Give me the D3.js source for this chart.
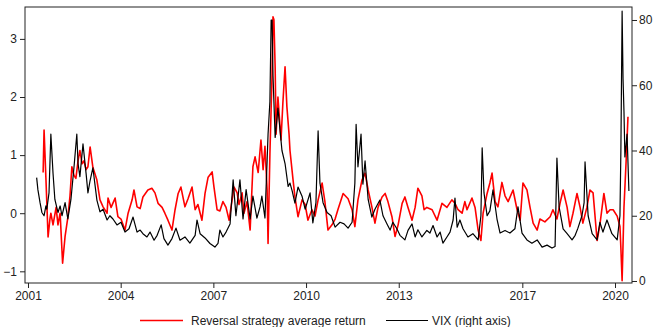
<!DOCTYPE html>
<html><head><meta charset="utf-8">
<script src="https://cdn.jsdelivr.net/npm/d3@7"></script>
<style>
html,body{margin:0;padding:0;background:#fff;}
svg{display:block;font-family:"Liberation Sans",Arial,Helvetica,sans-serif;}
</style></head>
<body><svg id="c" width="653" height="327"></svg>
<script>
// ---- data ----
const vixDates = [2001.28,2001.32,2001.39,2001.45,2001.52,2001.58,2001.61,2001.68,2001.74,2001.81,2001.87,2001.97,2002.04,2002.10,2002.20,2002.29,2002.39,2002.49,2002.58,2002.62,2002.68,2002.78,2002.88,2002.94,2003.01,2003.10,2003.23,2003.33,2003.43,2003.56,2003.65,2003.75,2003.88,2004.01,2004.14,2004.27,2004.40,2004.53,2004.63,2004.72,2004.85,2004.95,2005.08,2005.18,2005.31,2005.40,2005.53,2005.66,2005.79,2005.92,2006.08,2006.24,2006.41,2006.47,2006.57,2006.73,2006.89,2007.05,2007.15,2007.21,2007.31,2007.41,2007.54,2007.64,2007.73,2007.86,2007.96,2008.06,2008.19,2008.28,2008.41,2008.51,2008.57,2008.67,2008.74,2008.77,2008.83,2008.87,2008.90,2008.93,2009.00,2009.09,2009.22,2009.32,2009.42,2009.48,2009.55,2009.64,2009.74,2009.87,2009.97,2010.13,2010.22,2010.32,2010.39,2010.45,2010.55,2010.68,2010.81,2010.94,2011.10,2011.23,2011.36,2011.49,2011.58,2011.62,2011.68,2011.78,2011.84,2011.91,2012.01,2012.13,2012.23,2012.39,2012.49,2012.62,2012.72,2012.81,2012.94,2013.04,2013.20,2013.30,2013.43,2013.53,2013.62,2013.75,2013.91,2014.01,2014.11,2014.24,2014.34,2014.43,2014.56,2014.66,2014.76,2014.82,2014.89,2014.98,2015.08,2015.24,2015.40,2015.57,2015.66,2015.70,2015.76,2015.86,2015.95,2016.05,2016.18,2016.28,2016.44,2016.60,2016.76,2016.86,2016.99,2017.15,2017.31,2017.48,2017.64,2017.80,2017.96,2018.06,2018.12,2018.19,2018.32,2018.45,2018.61,2018.71,2018.80,2018.93,2019.00,2019.03,2019.13,2019.26,2019.42,2019.51,2019.61,2019.74,2019.90,2020.07,2020.16,2020.19,2020.23,2020.26,2020.29,2020.32,2020.39,2020.45];
const vixValues = [31.7,28,24,21,20,23,22,27,45,33,25,21,23,20,24,19,25,35,45,36,32,42,33,27,30.8,34.7,24.8,21.2,22,18.7,20,19,17.2,18,15,16,19.6,15,15.6,14.5,13.5,15,12.5,14,17.2,13,11,13,16.2,12.5,13.5,11.6,14,18.7,14.5,13.2,11.5,10.4,11.5,15.6,13.5,15,17.5,31,20,31,19,28,19,26,19.3,22.7,26,19.3,37,45,55,80,80,63,44,53,40,36,29,30,27.6,23.9,28.8,26,22,27,17.8,24,46,30,24,21,20,16.5,18,17.5,16.2,18,30,48,35,45,29.7,36.8,25,19.6,22,24.8,20,17.5,15.6,18,16,14,12.6,15.5,17.5,13.5,15.7,13.5,15.5,14.7,17,13.5,15,11.6,13.5,15,18.7,25.4,16.5,18.7,16,13.5,14.5,12.6,20,40.8,27,20,21.5,27.9,19,14.7,15.5,14.7,16,22.7,14.7,12.6,11.6,12.6,10.4,11,10.1,10.6,37.7,22.7,16,14.5,12.6,14,16.2,20,24,36.5,20,14.5,12.6,18,15,18.7,14.5,12.6,20,40,82.7,62,52,38,45,27.6];

const revDates = [2001.49,2001.52,2001.58,2001.65,2001.71,2001.74,2001.81,2001.91,2001.97,2002.04,2002.12,2002.20,2002.29,2002.36,2002.42,2002.49,2002.55,2002.62,2002.68,2002.75,2002.81,2002.88,2002.94,2003.01,2003.10,2003.23,2003.33,2003.43,2003.56,2003.59,2003.69,2003.82,2003.91,2004.01,2004.14,2004.24,2004.37,2004.43,2004.53,2004.63,2004.72,2004.88,2005.01,2005.11,2005.21,2005.34,2005.43,2005.53,2005.66,2005.76,2005.86,2005.95,2006.08,2006.18,2006.31,2006.41,2006.50,2006.63,2006.73,2006.83,2006.96,2007.02,2007.12,2007.21,2007.31,2007.41,2007.51,2007.57,2007.67,2007.77,2007.83,2007.93,2007.99,2008.09,2008.19,2008.28,2008.35,2008.45,2008.54,2008.61,2008.67,2008.74,2008.77,2008.83,2008.90,2008.93,2008.96,2009.00,2009.03,2009.09,2009.19,2009.25,2009.32,2009.38,2009.45,2009.48,2009.58,2009.64,2009.74,2009.87,2009.97,2010.06,2010.19,2010.29,2010.39,2010.52,2010.61,2010.71,2010.84,2010.94,2011.03,2011.20,2011.36,2011.49,2011.58,2011.68,2011.81,2011.91,2012.01,2012.13,2012.23,2012.33,2012.46,2012.56,2012.65,2012.78,2012.88,2012.98,2013.11,2013.20,2013.30,2013.43,2013.53,2013.62,2013.75,2013.82,2013.91,2014.08,2014.24,2014.40,2014.56,2014.72,2014.82,2014.92,2015.05,2015.14,2015.21,2015.37,2015.47,2015.57,2015.66,2015.73,2015.86,2015.95,2016.02,2016.12,2016.21,2016.34,2016.44,2016.54,2016.70,2016.83,2016.93,2017.02,2017.15,2017.25,2017.35,2017.48,2017.57,2017.73,2017.90,2017.99,2018.12,2018.22,2018.32,2018.45,2018.54,2018.64,2018.77,2018.87,2018.96,2019.09,2019.19,2019.29,2019.42,2019.51,2019.64,2019.74,2019.84,2019.94,2020.07,2020.16,2020.19,2020.23,2020.29,2020.36,2020.42];
const revValues = [0.7,1.43,0.6,-0.41,-0.1,0.0,-0.2,0.1,-0.2,0.0,-0.86,-0.4,-0.07,0.3,0.8,0.65,0.6,0.9,1.08,0.85,0.9,0.75,0.8,1.14,0.79,0.57,0.23,0.11,0.0,0.26,0.1,0.26,-0.06,-0.1,-0.29,0.0,0.23,0.4,0.11,0.08,0.28,0.4,0.43,0.35,0.17,0.1,0.0,-0.12,-0.29,0.06,0.34,0.45,0.11,0.25,0.45,0.06,0.15,-0.12,0.34,0.62,0.71,0.45,0.06,0.04,0.2,0.1,-0.12,0.1,0.45,0.35,0.15,0.35,0.0,0.2,-0.29,0.8,0.97,0.7,1.26,0.75,1.15,0.4,-0.52,1.02,2.4,3.38,3.33,2.5,1.36,2.0,1.26,1.9,2.52,1.83,1.36,1.08,0.57,0.28,-0.06,0.23,0.15,-0.12,0.06,-0.05,0.23,0.52,0.2,-0.29,-0.2,-0.1,0.06,0.34,0.25,0.06,-0.23,0.23,0.57,0.69,0.4,0.11,-0.17,0.1,0.28,0.34,0.2,-0.06,-0.4,-0.2,0.17,0.28,0.1,-0.12,0.1,0.43,0.3,0.06,0.1,0.06,-0.12,0.17,0.1,0.23,0.17,0.06,0.0,0.2,0.06,0.26,0.1,-0.29,-0.47,0.0,0.34,0.52,0.69,0.2,0.11,0.53,0.3,0.2,0.4,0.06,-0.12,0.52,0.4,0.1,-0.17,-0.29,-0.1,-0.15,-0.06,0.06,-0.1,0.17,0.4,0.1,-0.23,0.0,0.34,0.1,-0.17,0.1,0.4,0.35,-0.47,-0.2,0.34,0.0,0.06,0.06,-0.05,-0.23,-0.6,-1.16,0.1,0.9,1.66];

const yearTicks = [2001,2004,2007,2010,2013,2017,2020];
const leftTicks = [-1,0,1,2,3];
const rightTicks = [0,20,40,60,80];
const seriesNames = ["Reversal strategy average return","VIX (right axis)"];

// ---- drawing ----
const svg = d3.select("#c");
const L = 25, R = 632, T = 7, B = 283;
const x = d3.scaleLinear().domain([2000.903, 2020.550]).range([L, R]);
const yL = d3.scaleLinear().domain([-1.201, 3.549]).range([B, T]);
const yR = d3.scaleLinear().domain([-0.613, 83.98]).range([B, T]);

const revData = revDates.map((d,i)=>[d, revValues[i]]);
const vixData = vixDates.map((d,i)=>[d, vixValues[i]]);

svg.append("path").datum(revData)
  .attr("fill","none").attr("stroke","#ff0000").attr("stroke-width",1.6).attr("stroke-linejoin","round")
  .attr("d", d3.line().x(d=>x(d[0])).y(d=>yL(d[1])));
svg.append("path").datum(vixData)
  .attr("fill","none").attr("stroke","#000").attr("stroke-width",1.2).attr("stroke-linejoin","round")
  .attr("d", d3.line().x(d=>x(d[0])).y(d=>yR(d[1])));

svg.append("rect").attr("x",L).attr("y",T).attr("width",R-L).attr("height",B-T)
  .attr("fill","none").attr("stroke","#222").attr("stroke-width",1);

function style(g){
  g.select(".domain").remove();
  g.selectAll(".tick line").attr("stroke","#222");
  g.selectAll("text").attr("fill","#222").style("font-size","12px").style("font-family","'Liberation Sans',Arial,sans-serif");
}
svg.append("g").attr("transform",`translate(${L},0)`)
  .call(d3.axisLeft(yL).tickValues(leftTicks).tickSize(5).tickPadding(3).tickFormat(d3.format("d"))).call(style);
svg.append("g").attr("transform",`translate(${R},0)`)
  .call(d3.axisRight(yR).tickValues(rightTicks).tickSize(5).tickPadding(2).tickFormat(d3.format("d"))).call(style);
svg.append("g").attr("transform",`translate(0,${B})`)
  .call(d3.axisBottom(x).tickValues(yearTicks).tickSize(5).tickPadding(3).tickFormat(d3.format("d"))).call(style);

// legend
const leg = svg.append("g");
const legItems = [
  {name:seriesNames[0], color:"#ff0000", w:1.4, x1:140, x2:183, tx:191},
  {name:seriesNames[1], color:"#000", w:1.1, x1:386, x2:428, tx:432}
];
legItems.forEach(it=>{
  leg.append("line").attr("x1",it.x1).attr("x2",it.x2).attr("y1",320.5).attr("y2",320.5)
    .attr("stroke",it.color).attr("stroke-width",it.w);
  leg.append("text").attr("x",it.tx).attr("y",324.5).attr("fill","#222")
    .style("font-size","12px").text(it.name);
});
</script></body></html>
